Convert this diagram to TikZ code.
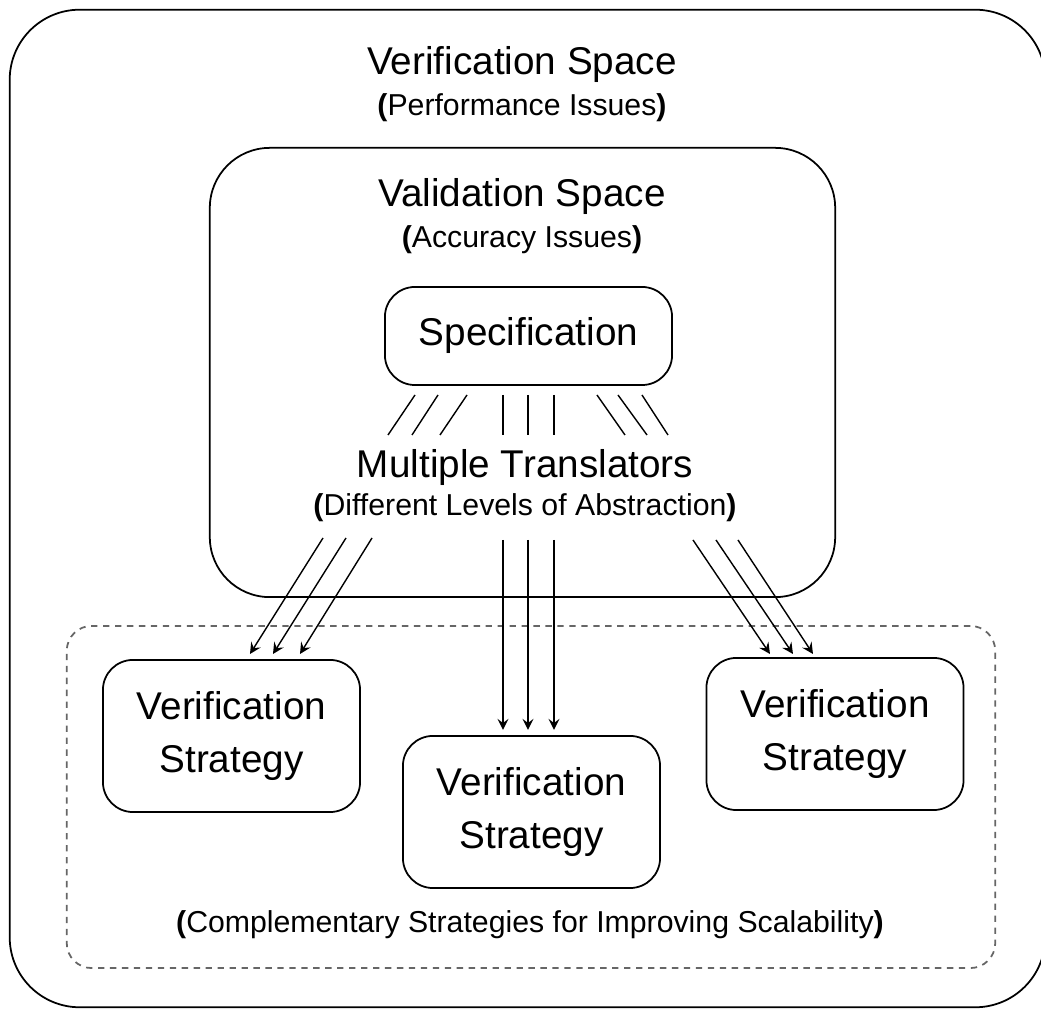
\documentclass[tikz,border=0pt]{standalone}
\usepackage{fontspec}
\setmainfont{Liberation Sans}
\usetikzlibrary{positioning}

\tikzset{
  spacebox/.style={draw, line width=0.5pt, inner sep=0pt},
  stratbox/.style={draw, line width=0.5pt, rounded corners=0.3cm, minimum width=2.57cm, minimum height=1.52cm, align=center, font=\fontsize{11}{14.8}\selectfont},
  titletext/.style={font=\fontsize{11}{13}\selectfont},
  subtext/.style={font=\fontsize{8.6}{10}\selectfont},
  thinline/.style={line width=0.4pt},
}

\newcommand{\bp}[1]{\textbf{(}#1\textbf{)}}

\begin{document}
\begin{tikzpicture}[x=0.01cm, y=-0.01cm, >=stealth]
        \useasboundingbox (0,0) rectangle (1041,1010);

        \node[spacebox, rounded corners=0.7cm, minimum width=10.35cm, minimum height=9.97cm] (outer) at (527.5,508.5) {};
        \node[spacebox, rounded corners=0.6cm, minimum width=6.25cm, minimum height=4.49cm] (valid) at (522.5,372.5) {};
        \node[spacebox, gray!80!black, dash pattern=on 1.8pt off 1.6pt, rounded corners=0.25cm, minimum width=9.28cm, minimum height=3.42cm] (compl) at (531,797) {};

        \node[titletext] (vtitle) at (522,65) {Verification Space};
        \node[subtext] (vsub) at (522,108) {\bp{Performance Issues}};
        \node[titletext] (ltitle) at (522,197) {Validation Space};
        \node[subtext] (lsub) at (522,240) {\bp{Accuracy Issues}};

        \node[spacebox, rounded corners=0.3cm, minimum width=2.87cm, minimum height=0.98cm, titletext] (spec) at (528.5,336) {Specification};

        \node[titletext] (mtitle) at (525,468) {Multiple Translators};
        \node[subtext] (msub) at (525,508) {\bp{Different Levels of Abstraction}};

        \node[stratbox] (vs1) at (231.5,736) {Verification\\Strategy};
        \node[stratbox] (vs2) at (531.5,812) {Verification\\Strategy};
        \node[stratbox] (vs3) at (835,734) {Verification\\Strategy};

        \node[subtext] (csub) at (530,925) {\bp{Complementary Strategies for Improving Scalability}};

        % translators under the specification
        \foreach \i/\a/\b in {1/415/388, 2/438/412, 3/467/440, 4/503/503, 5/528/528, 6/554/554, 7/597/625, 8/618/647, 9/642/668} {
            \coordinate (ts\i) at (\a,395);
            \coordinate (te\i) at (\b,435);
            \draw[thinline] (ts\i) -- (te\i);
        }

        % arrows to the strategies
        \foreach \i/\a/\b/\c/\d in {1/323/538/250/654, 2/346/538/273/654, 3/372/538/300/654,
                                   4/503/540/503/730, 5/528/540/528/730, 6/554/540/554/730,
                                   7/693/540/770/654, 8/716/540/793/654, 9/738/540/813/654} {
            \coordinate (as\i) at (\a,\b);
            \coordinate (ae\i) at (\c,\d);
            \draw[->, thinline] (as\i) -- (ae\i);
        }
\end{tikzpicture}
\end{document}
